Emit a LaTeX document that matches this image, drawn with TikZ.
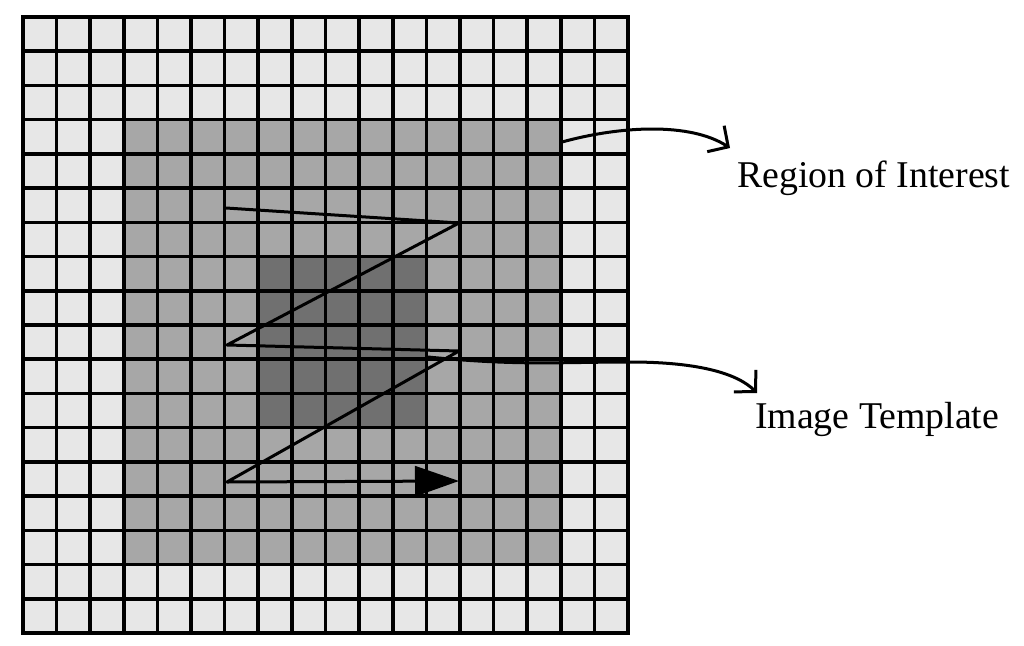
\documentclass[tikz,border=0pt]{standalone}
\usepackage{fontspec}
\setmainfont{Liberation Serif}
\usetikzlibrary{arrows.meta}
\definecolor{cellLight}{gray}{0.905}
\definecolor{cellMid}{gray}{0.655}
\definecolor{cellDark}{gray}{0.44}
\begin{document}
\begin{tikzpicture}[x=1pt,y=-1pt,
  gridline/.style={line width=3.6pt,black,line cap=rect},
  zigpath/.style={line width=3pt,line join=round,-{Triangle[length=44pt,width=30pt]}},
  conn/.style={line width=3pt,-{Straight Barb[length=15pt,width=31pt,line width=3pt]}},
  lbl/.style={font=\fontsize{37.8}{42}\selectfont,inner sep=0pt,anchor=base west}]
\useasboundingbox (0,0) rectangle (1024,645);
% cells
\fill[cellLight] (23,17) rectangle (628,633);
\fill[cellMid] ({23+3*33.611},{17+3*34.222}) rectangle ({23+16*33.611},{17+16*34.222});
\fill[cellDark] ({23+7*33.611},{17+7*34.222}) rectangle ({23+12*33.611},{17+12*34.222});
% grid
\foreach \i in {0,...,18}{
  \draw[gridline] ({23+\i*33.611},17) -- ({23+\i*33.611},633);
  \draw[gridline] (23,{17+\i*34.222}) -- (628,{17+\i*34.222});
}
% zigzag scan path
\coordinate (z1) at (226,208);
\coordinate (z2) at (459,223);
\coordinate (z3) at (227,345);
\coordinate (z4) at (459,351);
\coordinate (z5) at (227,482);
\coordinate (z6) at (459,481);
\draw[zigpath] (z1) -- (z2) -- (z3) -- (z4) -- (z5) -- (z6);
% labels
\node[lbl] (roi) at (737,187) {Region of Interest};
\node[lbl] (tpl) at (755,428) {Image Template};
% connectors
\coordinate (roiStart) at (562,142);
\coordinate (roiTip) at (730,148);
\coordinate (tplStart) at (428,357);
\coordinate (tplTip) at (757,393);
\draw[conn] (roiStart) .. controls (620,126) and (690,122) .. (roiTip);
\draw[conn] (tplStart) .. controls (520,366) and (560,362) .. (630,362)
  .. controls (700,362) and (738,374) .. (tplTip);
\end{tikzpicture}
\end{document}
